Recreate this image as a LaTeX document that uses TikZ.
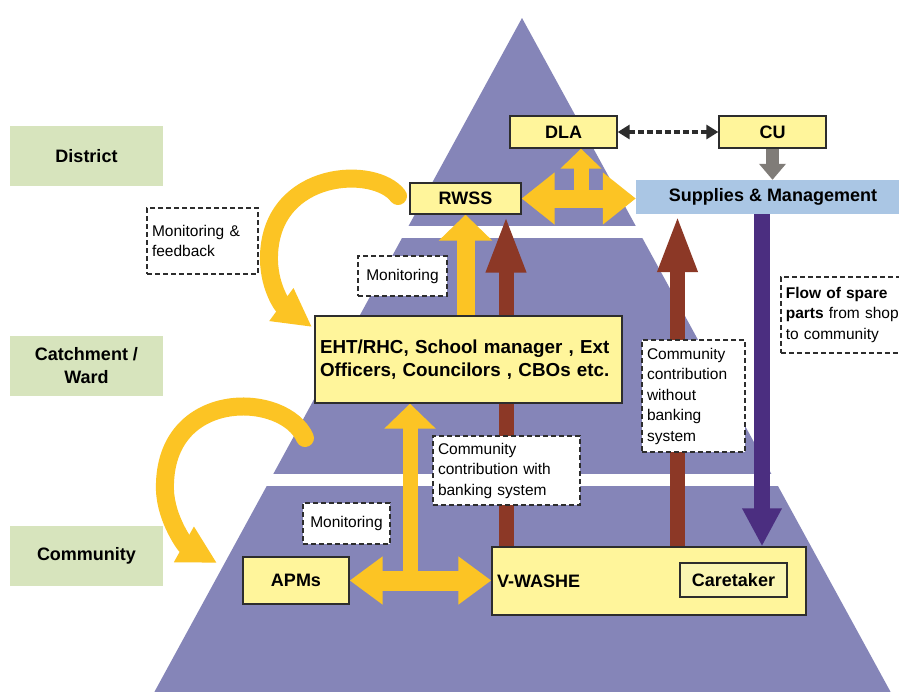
\documentclass[tikz,border=0pt]{standalone}
\usepackage{fontspec}
\setmainfont{Liberation Sans}
\usetikzlibrary{arrows.meta,backgrounds}
\definecolor{pyr}{RGB}{133,133,184}
\definecolor{lvgreen}{RGB}{215,228,189}
\definecolor{yfill}{RGB}{255,245,155}
\definecolor{ctfill}{RGB}{250,245,178}
\definecolor{yarr}{RGB}{252,196,36}
\definecolor{brn}{RGB}{140,56,38}
\definecolor{dpur}{RGB}{75,46,128}
\definecolor{garr}{RGB}{128,124,120}
\definecolor{lblue}{RGB}{170,198,228}
\definecolor{edgec}{RGB}{45,45,45}
\newcommand\lvfont{\fontsize{18}{23}\selectfont\bfseries}
\newcommand\ehtfont{\fontsize{18.8}{23}\selectfont\bfseries}
\newcommand\smfont{\fontsize{15.5}{20.5}\selectfont}
\begin{document}
\begin{tikzpicture}[x=1pt,y=-1pt,
  lvl/.style={fill=lvgreen, minimum width=153pt, minimum height=60pt, inner sep=0pt, font=\lvfont, align=center},
  ybox/.style={draw=edgec, line width=1.3pt, fill=yfill, inner sep=0pt, font=\lvfont},
  dbox/.style={draw=edgec, line width=1.6pt, dash pattern=on 5pt off 3pt, fill=white, inner sep=0pt, font=\smfont, align=left},
  yline/.style={draw=yarr},
  brnarr/.style={draw=brn, line width=15pt, -{Triangle[length=58pt,width=36pt]}},
  purarr/.style={draw=dpur, line width=16pt, -{Triangle[length=38pt,width=37pt]}},
  grayarr/.style={draw=garr, line width=13pt, -{Triangle[length=16pt,width=26pt]}},
  ycurve/.style={draw=yarr, line width=18pt, line cap=round, -{Triangle[length=38pt,width=38pt]}}
]
\useasboundingbox (0,0) rectangle (899,691);

% level labels
\node[lvl] (district) at (86.5,156) {District};
\node[lvl] (catch) at (86.5,366) {Catchment /\\Ward};
\node[lvl] (comm) at (86.5,556) {Community};

% boxes
\node[ybox, minimum width=107pt, minimum height=32pt] (dla) at (563.5,132) {DLA};
\node[ybox, minimum width=107pt, minimum height=32pt] (cu) at (772.5,132) {CU};
\node[ybox, minimum width=111pt, minimum height=31pt] (rwss) at (465.5,198.5) {RWSS};
\node[fill=lblue, minimum width=274pt, minimum height=34pt, inner sep=0pt, font=\lvfont] (sup) at (773,197) {Supplies \& Management};
\node[ybox, font=\ehtfont, minimum width=307pt, minimum height=87pt, text width=297pt, align=left] (eht) at (468.5,359.5) {EHT/RHC, School manager , Ext\\Officers, Councilors , CBOs etc.};
\node[ybox, minimum width=106pt, minimum height=47pt] (apms) at (296,580.5) {APMs};
\node[ybox, minimum width=314pt, minimum height=68pt, text width=304pt, align=left] (vw) at (649,581) {V-WASHE};
\node[ybox, fill=ctfill, line width=1.2pt, minimum width=107pt, minimum height=34pt] (care) at (733.5,580) {Caretaker};

% dashed note boxes
\node[dbox, minimum width=111pt, minimum height=66pt, text width=101pt] (mf) at (202.5,241) {Monitoring \&\\feedback};
\node[dbox, minimum width=89pt, minimum height=40pt, align=center] (mon1) at (402.5,276) {Monitoring};
\node[dbox, minimum width=87pt, minimum height=41pt, align=center] (mon2) at (346.5,523.5) {Monitoring};
\node[dbox, minimum width=147pt, minimum height=69pt, text width=137pt] (ccw) at (506.5,470.5) {Community\\contribution with\\banking system};
\node[dbox, minimum width=103pt, minimum height=112pt, text width=93pt] (ccwo) at (693.5,396) {Community\\contribution\\without\\banking\\system};
\node[dbox, minimum width=130pt, minimum height=76pt, text width=120pt, anchor=north west] (flow) at (780,276) {\textbf{Flow of spare}\\\textbf{parts} from shop\\to community};

% helper coordinates
\coordinate (xb1) at (506,0);
\coordinate (xb2) at (677.5,0);
\coordinate (xp) at (762,0);
\coordinate (xt1) at (581,0);
\coordinate (xt2) at (410,0);
\coordinate (c1a) at (398,196);
\coordinate (c1b) at (312,327);
\coordinate (c2a) at (305,438);
\coordinate (c2b) at (217,563);

\begin{scope}[on background layer]
  \fill[white] (0,0) rectangle (899,691);
  \fill[pyr] (522,18) -- (895,700) -- (150,700) -- cycle;
  \fill[white] (380,226) rectangle (660,238);
  \fill[white] (250,474) rectangle (790,486);

  % flows behind boxes
  \draw[brnarr] (vw.north -| xb1) -- (rwss.south -| xb1);
  \draw[brnarr] (vw.north -| xb2) -- (sup.south -| xb2);
  \draw[purarr] (sup.south -| xp) -- (vw.north -| xp);
  \draw[grayarr] (cu.south) -- (sup.north -| cu.south);
  \draw[draw=edgec, line width=4pt, dash pattern=on 6pt off 3pt,
        {Triangle[length=12pt,width=14pt]}-{Triangle[length=12pt,width=14pt]}] (dla.east) -- (cu.west);

  % yellow arrows
  \draw[yline, line width=18pt, -{Triangle[length=26pt,width=52pt]}] (eht.north -| rwss.south) -- (rwss.south);
  \draw[yline, line width=18pt, {Triangle[length=33pt,width=50pt]}-{Triangle[length=33pt,width=50pt]}] (rwss.east) -- (sup.west |- rwss.east);
  \draw[yline, line width=15pt, -{Triangle[length=20pt,width=40pt]}] (rwss.east -| xt1) -- (dla.south -| xt1);
  \draw[yline, line width=20pt, {Triangle[length=33pt,width=46pt]}-{Triangle[length=33pt,width=46pt]}] (apms.east) -- (vw.west |- apms.east);
  \draw[yline, line width=15pt, -{Triangle[length=25pt,width=50pt]}] (apms.east -| xt2) -- (eht.south -| xt2);

  % curved feedback arrows
  \draw[ycurve] (c1a) .. controls (375,165) and (272,170) .. (269,255) .. controls (268,285) and (282,305) .. (c1b);
  \draw[ycurve] (c2a) .. controls (285,392) and (168,388) .. (165,483) .. controls (163,515) and (185,545) .. (c2b);
\end{scope}
\end{tikzpicture}
\end{document}
